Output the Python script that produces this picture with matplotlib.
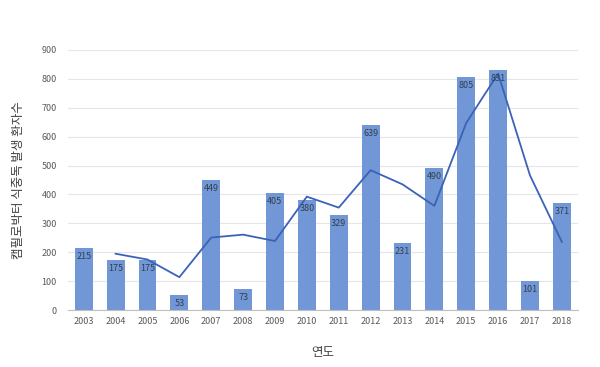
import matplotlib
matplotlib.use("Agg")
import matplotlib.pyplot as plt

plt.rcParams['font.family'] = ['Noto Sans CJK KR', 'DejaVu Sans']

years = ['2003', '2004', '2005', '2006', '2007', '2008', '2009', '2010',
         '2011', '2012', '2013', '2014', '2015', '2016', '2017', '2018']
cases = [215, 175, 175, 53, 449, 73, 405, 380, 329, 639, 231, 490, 805, 831, 101, 371]
# trend line (2-period moving average), starts at 2004
trend_years = years[1:]
trend_vals = [195, 175, 114, 251, 261, 239, 392.5, 354.5, 484, 435, 360.5, 647.5, 818, 466, 236]

fig = plt.figure(figsize=(6, 3.67), dpi=100)
ax = fig.add_axes([0.113, 0.155, 0.85, 0.709])

x = list(range(len(years)))
bars = ax.bar(x, cases, width=0.56, color='#7297D6', zorder=2)
tx = [years.index(y) for y in trend_years]
ax.plot(tx, trend_vals, color='#3A63B8', linewidth=1.3, zorder=3)

for xi, v in zip(x, cases):
    ax.text(xi, v - 14, str(v), ha='center', va='top', fontsize=6.5, color='#333F50', zorder=4)

ax.set_ylim(0, 900)
ax.set_yticks(range(0, 901, 100))
ax.set_xlim(-0.5, len(years) - 0.5)
ax.set_xticks(x)
ax.set_xticklabels(years)
ax.tick_params(axis='both', labelsize=6.5, colors='#595959', length=0)
ax.tick_params(axis='y', pad=8)
ax.tick_params(axis='x', pad=5)
ax.yaxis.grid(True, color='#E6E6E6', linewidth=0.8, zorder=0)
ax.set_axisbelow(True)
for s in ['top', 'right', 'left']:
    ax.spines[s].set_visible(False)
ax.spines['bottom'].set_color('#BFBFBF')

ax.set_xlabel('연도', fontsize=9, color='#404040', labelpad=14)
ax.set_ylabel('캠필로박터 식중독 발생 환자수', fontsize=9, color='#404040', labelpad=12)

fig.savefig('out.png', dpi=100)
